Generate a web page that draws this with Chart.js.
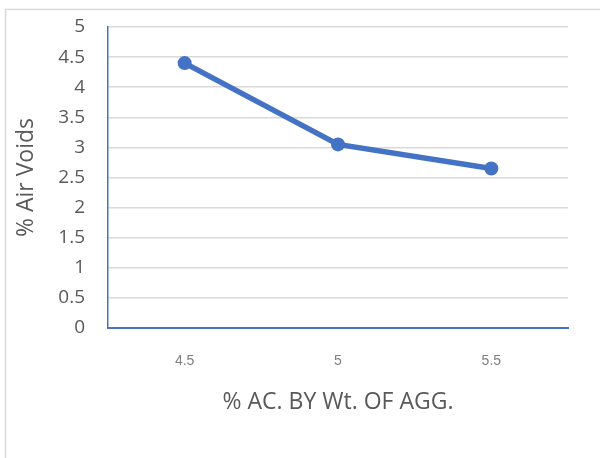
<!DOCTYPE html>
<html>
<head>
<meta charset="utf-8">
<script src="https://cdn.jsdelivr.net/npm/chart.js"></script>
<style>
  html, body { margin: 0; padding: 0; background: #fff; }
  #wrap { width: 600px; height: 458px; }
</style>
</head>
<body>
<div id="wrap"><canvas id="airVoids" width="600" height="458"></canvas></div>
<script>
const categories = ['4.5', '5', '5.5'];
const airVoids = [4.4, 3.05, 2.65];
const xTitle = '% AC. BY Wt. OF AGG.';
const yTitle = '% Air Voids';

const blue = '#4472C4';

// light frame of the (cropped) chart box
const frame = {
  id: 'frame',
  beforeDraw(chart) {
    const { ctx } = chart;
    ctx.save();
    ctx.strokeStyle = '#d9d9d9';
    ctx.lineWidth = 1.5;
    ctx.beginPath();
    ctx.moveTo(600, 9.5);
    ctx.lineTo(5.5, 9.5);
    ctx.lineTo(5.5, 458);
    ctx.stroke();
    ctx.restore();
  }
};

new Chart(document.getElementById('airVoids').getContext('2d'), {
  type: 'line',
  data: {
    labels: categories,
    datasets: [{
      data: airVoids,
      borderColor: blue,
      backgroundColor: blue,
      borderWidth: 5.5,
      pointRadius: 7,
      pointBackgroundColor: blue,
      pointBorderWidth: 0,
      tension: 0,
    }]
  },
  options: {
    responsive: false,
    animation: false,
    devicePixelRatio: 1,
    layout: { padding: { top: 27, right: 32, left: 0, bottom: 0 } },
    plugins: {
      legend: { display: false },
      tooltip: { enabled: false },
    },
    scales: {
      x: {
        offset: true,
        grid: { display: false, drawTicks: false },
        border: { display: true, color: blue, width: 2 },
        ticks: {
          color: '#7f7f7f',
          padding: 25,
          font: { family: 'Liberation Sans', size: 14 },
          maxRotation: 0,
        },
        title: {
          display: true,
          text: xTitle,
          color: '#595959',
          font: { family: 'Open Sans', size: 23 },
          padding: { top: 0, bottom: 42 },
        },
        afterFit(scale) { scale.height = 130; },
      },
      y: {
        min: 0,
        max: 5,
        ticks: {
          stepSize: 0.5,
          color: '#595959',
          padding: 23,
          font: { family: 'Open Sans', size: 19 },
          callback: (v) => String(Number(v)),
        },
        grid: { color: '#d9d9d9', lineWidth: 1.5, drawTicks: false },
        border: { display: true, color: blue, width: 1.5 },
        title: {
          display: true,
          text: yTitle,
          color: '#595959',
          font: { family: 'Open Sans', size: 23 },
          padding: { top: 13, bottom: 0 },
        },
        afterFit(scale) {
          scale.width = 108;
          scale.paddingTop = 0;
          scale.paddingBottom = 0;
        },
      }
    }
  },
  plugins: [frame]
});
</script>
</body>
</html>
